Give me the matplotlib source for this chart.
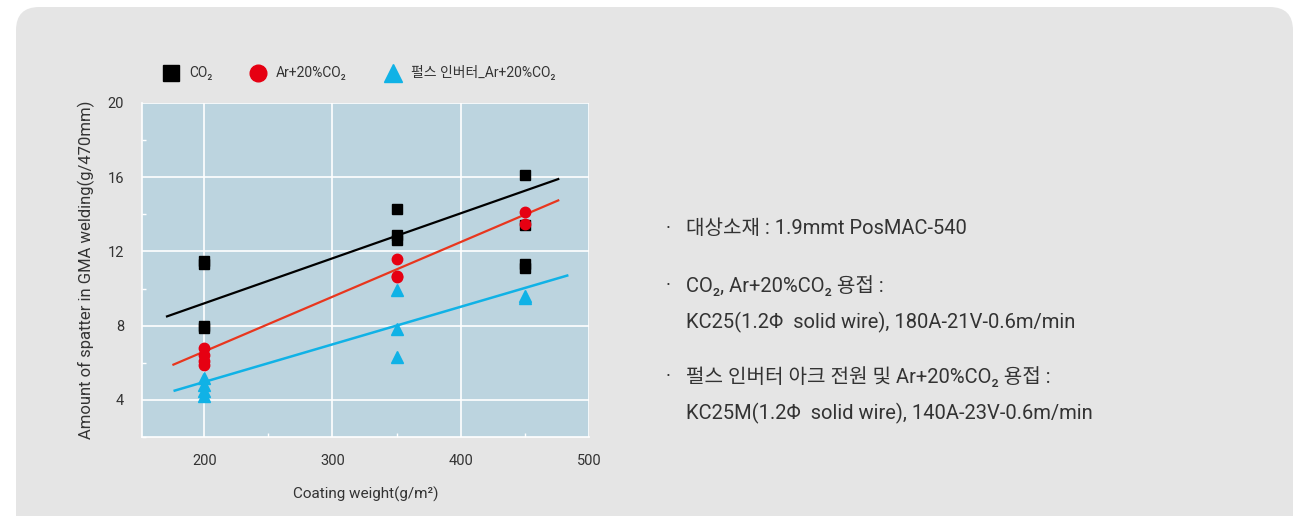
import matplotlib
matplotlib.use("Agg")
import matplotlib.pyplot as plt
from matplotlib.patches import FancyBboxPatch
from matplotlib.lines import Line2D
from matplotlib.ticker import MultipleLocator

plt.rcParams["font.family"] = ["Roboto", "Noto Sans CJK KR", "DejaVu Sans"]

# data
co2_x = [200, 200, 200, 200, 350, 350, 350, 450, 450, 450, 450]
co2_y = [11.5, 11.3, 8.0, 7.9, 14.3, 12.9, 12.6, 16.1, 13.4, 11.3, 11.1]
ar_x = [200, 200, 200, 200, 350, 350, 350, 450, 450]
ar_y = [6.8, 6.4, 6.1, 5.9, 11.6, 10.7, 10.6, 14.1, 13.5]
pulse_x = [200, 200, 200, 200, 350, 350, 350, 450, 450]
pulse_y = [5.2, 4.8, 4.5, 4.2, 9.9, 7.8, 6.3, 9.5, 9.6]

# trend lines (end points)
co2_fit_x = [171, 476]
co2_fit_y = [8.5, 15.9]
ar_fit_x = [176, 476]
ar_fit_y = [5.9, 14.75]
pulse_fit_x = [177, 483]
pulse_fit_y = [4.5, 10.7]

labels = ["CO₂", "Ar+20%CO₂", "펄스 인버터_Ar+20%CO₂"]
notes = [
    ("·", "대상소재 : 1.9mmt PosMAC-540"),
    ("·", "CO₂, Ar+20%CO₂ 용접 :"),
    ("", "KC25(1.2Φ  solid wire), 180A-21V-0.6m/min"),
    ("·", "펄스 인버터 아크 전원 및 Ar+20%CO₂ 용접 :"),
    ("", "KC25M(1.2Φ  solid wire), 140A-23V-0.6m/min"),
]
note_y = [229, 286, 322, 377, 413]

BLACK = "#000000"
RED = "#e60012"
RED_LINE = "#e8361e"
BLUE = "#10b2e6"
TEXT = "#333333"
PANEL = "#e5e5e5"
PLOT_BG = "#bcd4df"

W, H = 1294, 516
fig = plt.figure(figsize=(W / 100, H / 100), dpi=100)
fig.patch.set_facecolor("white")

# rounded grey panel behind everything
panel = FancyBboxPatch(
    (16 / W, -30 / H), (1293 - 16) / W, (H - 7 + 30) / H,
    boxstyle="round,pad=0,rounding_size=0.018",
    transform=fig.transFigure, facecolor=PANEL, edgecolor="none",
    mutation_aspect=W / H, zorder=-5,
)
fig.patches.append(panel)

ax = fig.add_axes([142 / W, (H - 437) / H, (589 - 142) / W, (437 - 103) / H])
ax.set_zorder(1)
ax.set_facecolor(PLOT_BG)
ax.set_xlim(151.5, 500)
ax.set_ylim(2, 20)

ax.xaxis.set_major_locator(MultipleLocator(100))
ax.xaxis.set_minor_locator(MultipleLocator(50))
ax.yaxis.set_major_locator(MultipleLocator(4))
ax.yaxis.set_minor_locator(MultipleLocator(2))
ax.grid(True, which="major", color="white", lw=1.2)
ax.set_axisbelow(True)

for side in ["top", "right"]:
    ax.spines[side].set_visible(False)
for side in ["left", "bottom"]:
    ax.spines[side].set_color("white")
    ax.spines[side].set_linewidth(1.2)

ax.tick_params(which="major", length=0, labelsize=10.5, labelcolor=TEXT)
ax.tick_params(axis="y", which="major", pad=13)
ax.tick_params(axis="x", which="major", pad=12)
ax.tick_params(which="minor", direction="in", length=3, color="white", width=1)

ax.plot(co2_fit_x, co2_fit_y, color=BLACK, lw=1.6, zorder=2)
ax.plot(ar_fit_x, ar_fit_y, color=RED_LINE, lw=1.6, zorder=2)
ax.plot(pulse_fit_x, pulse_fit_y, color=BLUE, lw=1.8, zorder=2)

ax.plot(co2_x, co2_y, ls="none", marker="s", ms=7.5, color=BLACK, zorder=3)
ax.plot(ar_x, ar_y, ls="none", marker="o", ms=7.5, color=RED, zorder=4)
ax.plot(pulse_x, pulse_y, ls="none", marker="^", ms=8, color=BLUE, zorder=3)

ax.set_xlabel("Coating weight(g/m²)", fontsize=11, color=TEXT, labelpad=14)
ax.set_ylabel("Amount of spatter in GMA welding(g/470mm)", fontsize=12, color=TEXT, labelpad=9)

handles = [
    Line2D([], [], ls="none", marker="s", ms=11.5, color=BLACK),
    Line2D([], [], ls="none", marker="o", ms=12, color=RED),
    Line2D([], [], ls="none", marker="^", ms=12.5, color=BLUE),
]
leg = fig.legend(
    handles, labels, loc="center left", bbox_to_anchor=(150 / W, 1 - 73 / H),
    ncol=3, frameon=False, fontsize=10, handlelength=1.2, handletextpad=0.7,
    columnspacing=2.7, labelcolor=TEXT,
)

for (bullet, txt), y in zip(notes, note_y):
    if bullet:
        fig.text(668 / W, 1 - y / H, bullet, fontsize=14, color=TEXT, va="center", ha="center")
    fig.text(686 / W, 1 - y / H, txt, fontsize=14.5, color=TEXT, va="center", ha="left")

fig.savefig("out.png", dpi=100, facecolor="white")
